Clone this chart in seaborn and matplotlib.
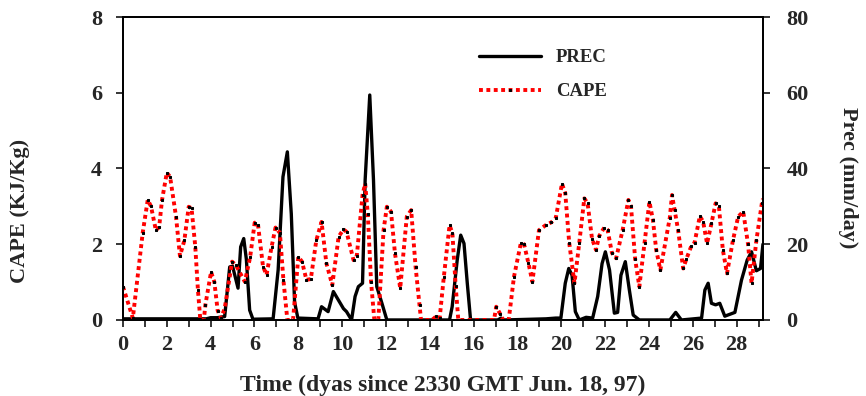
import matplotlib
matplotlib.use("Agg")
import matplotlib.pyplot as plt
import seaborn as sns

# CAPE (KJ/Kg)
cape_t = [0.0, 0.45, 0.9, 1.13, 1.28, 1.5, 1.65, 1.78, 2.0, 2.15, 2.42, 2.6, 2.8, 3.0, 3.13,
          3.3, 3.42, 3.53, 3.69, 3.76, 4.02, 4.17, 4.32, 4.47, 4.64, 4.98, 5.15, 5.56, 5.8,
          6.01, 6.16, 6.39, 6.55, 6.78, 6.96, 7.16, 7.32, 7.5, 7.76, 8.0, 8.17, 8.37, 8.57,
          8.82, 9.06, 9.28, 9.55, 9.84, 10.06, 10.2, 10.52, 10.67, 10.93, 11.05, 11.17, 11.32,
          11.47, 11.65, 11.89, 12.04, 12.23, 12.41, 12.65, 12.95, 13.15, 13.35, 13.53, 13.6,
          14.1, 14.3, 14.45, 14.64, 14.9, 15.03, 15.18, 15.3, 16.93, 17.03, 17.2, 17.35, 17.6,
          17.84, 18.15, 18.3, 18.5, 18.68, 18.98, 19.28, 19.55, 19.75, 20.03, 20.18, 20.36,
          20.6, 20.82, 21.05, 21.2, 21.4, 21.58, 21.73, 21.96, 22.11, 22.31, 22.5, 22.8, 23.06,
          23.18, 23.37, 23.56, 23.8, 24.02, 24.18, 24.33, 24.52, 24.95, 25.05, 25.17, 25.33,
          25.56, 25.7, 25.93, 26.08, 26.32, 26.47, 26.65, 26.85, 27.04, 27.19, 27.37, 27.56,
          27.83, 28.07, 28.3, 28.52, 28.68, 28.9, 29.15, 29.2]
cape_v = [0.88, 0.05, 2.3, 3.17, 3.0, 2.37, 2.45, 3.16, 3.89, 3.78, 2.73, 1.69, 2.1, 2.99, 2.95,
          1.93, 0.79, 0.0, 0.0, 0.4, 1.27, 1.0, 0.25, 0.05, 0.3, 1.54, 1.45, 1.01, 1.65,
          2.57, 2.52, 1.41, 1.19, 1.93, 2.44, 2.3, 1.06, 0.0, 0.0, 1.67, 1.54, 1.06, 1.08,
          2.1, 2.59, 1.5, 0.92, 2.2, 2.39, 2.33, 1.58, 1.7, 3.3, 3.6, 2.8, 1.0,
          0.0, 0.0, 2.37, 2.99, 2.86, 1.76, 0.84, 2.73, 2.9, 1.41, 0.4, 0.0,
          0.0, 0.1, 0.05, 1.14, 2.5, 2.3, 0.9, 0.0, 0.0, 0.35, 0.17, 0.0, 0.0,
          1.14, 2.02, 2.0, 1.5, 1.01, 2.37, 2.5, 2.58, 2.7, 3.6, 3.35, 2.04,
          0.97, 2.04, 3.21, 3.08, 2.15, 1.85, 2.22, 2.44, 2.38, 1.77, 1.63, 2.38, 3.17,
          3.0, 1.6, 0.88, 2.04, 3.12, 2.64, 1.85, 1.32, 2.7, 3.3, 2.9, 2.37,
          1.36, 1.6, 1.95, 2.04, 2.74, 2.6, 2.02, 2.55, 3.08, 3.0, 1.85, 1.23,
          2.1, 2.73, 2.86, 2.0, 0.97, 2.1, 3.08, 3.2]

# Precipitation (mm/day)
prec_t = [0.0, 3.8, 4.0, 4.3, 4.64, 4.87, 5.0, 5.25, 5.37, 5.51, 5.63, 5.78, 5.93, 6.85, 7.08,
          7.3, 7.5, 7.68, 7.83, 7.98, 8.9, 9.06, 9.36, 9.6, 10.06, 10.2, 10.43, 10.59, 10.74,
          10.93, 11.05, 11.26, 11.43, 11.58, 11.81, 12.04, 14.9, 15.02, 15.25, 15.41, 15.56,
          15.71, 15.86, 17.1, 17.25, 17.4, 19.3, 19.75, 19.98, 20.18, 20.34, 20.49, 20.64,
          20.82, 21.13, 21.43, 21.66, 21.86, 22.01, 22.2, 22.42, 22.57, 22.72, 22.92, 23.1,
          23.28, 23.56, 24.95, 25.22, 25.48, 26.4, 26.55, 26.7, 26.85, 27.04, 27.23, 27.46,
          27.69, 27.92, 28.22, 28.48, 28.68, 28.9, 29.09, 29.2]
prec_v = [0.3, 0.3, 0.6, 0.6, 0.9, 14.0, 14.2, 8.4, 19.3, 21.5, 16.0, 2.6, 0.2, 0.3, 13.2,
          37.8, 44.4, 28.0, 4.7, 0.5, 0.3, 3.5, 2.2, 7.5, 3.0, 2.2, 0.0, 6.2, 8.8,
          9.7, 37.0, 59.4, 37.0, 8.8, 4.5, 0.0, 0.0, 3.5, 15.8, 22.4, 20.2,
          9.7, 0.0, 0.0, 0.5, 0.0, 0.3, 0.5, 0.5, 9.7, 13.6, 11.8, 2.2,
          0.0, 0.7, 0.5, 6.2, 14.9, 18.0, 13.2, 1.8, 2.0, 11.8, 15.4, 8.1,
          1.3, 0.0, 0.0, 2.0, 0.0, 0.5, 7.9, 9.7, 4.4, 4.0, 4.4, 1.0,
          1.5, 2.0, 10.5, 15.8, 18.0, 13.0, 13.6, 20.0]

x_ticks = list(range(0, 30))
x_labels = [str(d) if d % 2 == 0 else "" for d in x_ticks]
cape_ticks = [0, 2, 4, 6, 8]
prec_ticks = [0, 20, 40, 60, 80]

sns.set_style("ticks")
plt.rcParams["font.family"] = ["Liberation Serif", "DejaVu Serif"]
plt.rcParams["font.weight"] = "bold"

fig = plt.figure(figsize=(8.66, 3.96), dpi=100)
ax = fig.add_axes([0.142, 0.192, 0.739, 0.765])
ax2 = ax.twinx()

sns.lineplot(x=prec_t, y=prec_v, ax=ax2, color="black", linewidth=2.4,
             sort=False, estimator=None, label="PREC")
sns.lineplot(x=cape_t, y=cape_v, ax=ax, color="red", linestyle=(0, (1.0, 0.9)), linewidth=2.8,
             marker="s", markersize=2, markerfacecolor="black", markeredgecolor="black",
             sort=False, estimator=None, label="CAPE")

# CAPE drawn on top of precipitation
ax.set_zorder(ax2.get_zorder() + 1)
ax.patch.set_visible(False)

ax.set_xlim(0, 29.2)
ax.set_ylim(0, 8)
ax2.set_ylim(0, 80)
ax.set_xticks(x_ticks)
ax.set_xticklabels(x_labels)
ax.set_yticks(cape_ticks)
ax2.set_yticks(prec_ticks)

for a in (ax, ax2):
    a.tick_params(direction="out", length=5, width=1.3, labelsize=16, pad=6)
    for sp in a.spines.values():
        sp.set_visible(True)
        sp.set_linewidth(1.3)
        sp.set_color("black")
    for lab in a.get_xticklabels() + a.get_yticklabels():
        lab.set_fontweight("bold")
ax2.tick_params(axis="y", pad=12)
ax.tick_params(axis="y", pad=10)

ax.set_xlabel("Time (dyas since 2330 GMT Jun. 18, 97)", fontsize=17, fontweight="bold", labelpad=14)
ax.set_ylabel("CAPE (KJ/Kg)", fontsize=16, fontweight="bold")
ax2.set_ylabel("Prec (mm/day)", fontsize=16, fontweight="bold", rotation=270)
ax.yaxis.set_label_coords(-0.161, 0.36)
ax2.yaxis.set_label_coords(1.133, 0.47)
ax2.yaxis.label.set_va("center")
ax.yaxis.label.set_va("center")

h1, l1 = ax2.get_legend_handles_labels()
h2, l2 = ax.get_legend_handles_labels()
if ax2.get_legend():
    ax2.get_legend().remove()
leg = ax.legend(h1 + h2, l1 + l2, loc="upper left", bbox_to_anchor=(0.53, 0.95),
                frameon=False, handlelength=3.3, labelspacing=0.9,
                prop={"weight": "bold", "size": 13.5})

fig.savefig("out.png", dpi=100)
